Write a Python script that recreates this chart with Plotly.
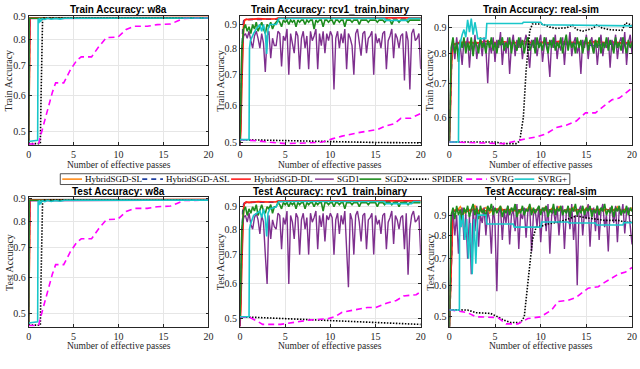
import numpy as np
import plotly.graph_objects as go
from plotly.subplots import make_subplots

METHODS = ["HybridSGD-SL", "HybridSGD-ASL", "HybridSGD-DL", "SGD1", "SGD2", "SPIDER", "SVRG", "SVRG+"]
COLORS = ["#FF8C1A", "#1F3FA0", "#FF1F1F", "#7E2F8E", "#1E8C1E", "#000000", "#FF00FF", "#19C6C9"]
DASHES = ["solid", "5px,4px", "solid", "solid", "solid", "1.5px,1.5px", "6px,4px", "solid"]
WIDTHS = [1.6, 1.6, 1.6, 1.4, 1.6, 1.6, 1.6, 1.6]

# sample positions (effective passes) for the noisy curves
PASSES_02 = np.round(np.arange(0, 20.0001, 0.2), 1)
PASSES_04 = np.round(np.arange(0, 20.0001, 0.4), 1)

# ---------------- w8a (train and test curves coincide) ----------------
W8A_SL_X = [0, 0.05, 0.15, 20]
W8A_SL = [0.47, 0.60, 0.893, 0.895]
W8A_ASL_X = [0, 0.05, 0.12, 20]
W8A_ASL = [0.47, 0.65, 0.893, 0.894]
W8A_DL_X = [0, 0.05, 0.15, 20]
W8A_DL = [0.47, 0.70, 0.894, 0.895]
W8A_SGD1_X = [0, 0.04, 0.1, 20]
W8A_SGD1 = [0.47, 0.75, 0.890, 0.893]
W8A_SGD2_X = [0, 0.02, 0.05, 20]
W8A_SGD2 = [0.47, 0.80, 0.892, 0.893]
W8A_SPIDER_X = [0, 1.0, 1.3, 1.38, 1.45, 1.55, 20]
W8A_SPIDER = [0.47, 0.47, 0.47, 0.60, 0.80, 0.893, 0.894]
W8A_SVRG_X = [0, 1.1, 1.24, 1.54, 2.08, 2.63, 3.0, 3.9, 4.64, 5.37, 5.85, 7.0, 7.75, 8.66,
              9.94, 10.85, 11.77, 13.2, 14.3, 15.8, 16.5, 17.26, 20]
W8A_SVRG = [0.469, 0.469, 0.482, 0.508, 0.552, 0.610, 0.641, 0.641, 0.685, 0.720, 0.732, 0.732,
            0.769, 0.808, 0.810, 0.842, 0.856, 0.856, 0.863, 0.866, 0.878, 0.891, 0.893]
W8A_SVRGP_X = [0, 1.0, 1.05, 1.15, 1.2, 1.3, 1.5, 1.8, 2.1, 2.5, 3.0, 3.5, 4.0, 20]
W8A_SVRGP = [0.475, 0.478, 0.890, 0.870, 0.893, 0.875, 0.890, 0.886, 0.892, 0.887, 0.891, 0.888,
             0.892, 0.893]

# ---------------- rcv1_train.binary ----------------
RCV1_HYB_X = [0, 0.1, 0.2, 0.3, 0.4, 0.5, 0.7, 1.0, 2.0, 3.0, 4.0, 4.3, 8.0, 12.0, 16.0, 16.5, 20.0]
TR_RCV1_SL = [0.50, 0.56, 0.70, 0.84, 0.90, 0.918, 0.922, 0.924, 0.925, 0.924, 0.925, 0.929, 0.930,
              0.930, 0.930, 0.932, 0.931]
TR_RCV1_ASL = [0.50, 0.60, 0.76, 0.88, 0.915, 0.920, 0.923, 0.923, 0.924, 0.925, 0.924, 0.928, 0.929,
               0.930, 0.929, 0.931, 0.930]
TR_RCV1_DL = [0.49, 0.53, 0.66, 0.80, 0.89, 0.920, 0.925, 0.922, 0.927, 0.925, 0.926, 0.931, 0.931,
              0.932, 0.930, 0.933, 0.931]
TR_RCV1_SGD1 = [0.49, 0.80, 0.85, 0.86, 0.84, 0.87, 0.83, 0.80, 0.85, 0.87,
                0.84, 0.80, 0.86, 0.82, 0.71, 0.85, 0.87, 0.76, 0.84, 0.81,
                0.81, 0.87, 0.86, 0.73, 0.85, 0.83, 0.88, 0.70, 0.86, 0.82,
                0.78, 0.87, 0.85, 0.72, 0.84, 0.87, 0.80, 0.85, 0.72, 0.87,
                0.83, 0.85, 0.88, 0.72, 0.86, 0.81, 0.87, 0.78, 0.86, 0.83,
                0.87, 0.85, 0.65, 0.84, 0.87, 0.80, 0.86, 0.82, 0.88, 0.72,
                0.86, 0.84, 0.81, 0.70, 0.86, 0.88, 0.83, 0.77, 0.86, 0.87,
                0.78, 0.84, 0.85, 0.87, 0.70, 0.86, 0.82, 0.84, 0.80, 0.86,
                0.87, 0.72, 0.83, 0.85, 0.88, 0.76, 0.86, 0.84, 0.80, 0.85,
                0.86, 0.68, 0.87, 0.83, 0.65, 0.86, 0.88, 0.83, 0.84, 0.86,
                0.72]
TR_RCV1_SGD2 = [0.50, 0.80, 0.88, 0.90, 0.87, 0.89, 0.86, 0.90, 0.88, 0.91,
                0.87, 0.89, 0.91, 0.88, 0.86, 0.90, 0.89, 0.91, 0.88, 0.90,
                0.91, 0.92, 0.91, 0.89, 0.92, 0.91, 0.92, 0.90, 0.92, 0.91,
                0.92, 0.89, 0.92, 0.91, 0.92, 0.92, 0.90, 0.92, 0.91, 0.92,
                0.92, 0.88, 0.92, 0.91, 0.92, 0.92, 0.89, 0.92, 0.92, 0.91,
                0.92, 0.92, 0.90, 0.92, 0.92, 0.91, 0.92, 0.92, 0.89, 0.92,
                0.92, 0.92, 0.91, 0.92, 0.92, 0.92, 0.90, 0.92, 0.92, 0.92,
                0.92, 0.91, 0.92, 0.92, 0.92, 0.92, 0.91, 0.92, 0.92, 0.92,
                0.91, 0.92, 0.92, 0.92, 0.90, 0.92, 0.92, 0.92, 0.91, 0.92,
                0.92, 0.92, 0.92, 0.91, 0.92, 0.92, 0.92, 0.92, 0.92, 0.92,
                0.92]
TR_RCV1_SPIDER_X = [0, 2, 5, 10, 15, 20]
TR_RCV1_SPIDER = [0.506, 0.505, 0.503, 0.501, 0.499, 0.498]
TR_RCV1_SVRG_X = [0, 1.5, 2.0, 3.1, 5.1, 7.6, 9.1, 10.2, 11.3, 13.1, 14.5, 15.3, 16.0, 17.1, 17.8, 18.9, 20]
TR_RCV1_SVRG = [0.506, 0.505, 0.503, 0.500, 0.496, 0.498, 0.500, 0.508, 0.515, 0.524, 0.529, 0.533,
                0.541, 0.548, 0.563, 0.563, 0.577]
TR_RCV1_SVRGP_X = [0, 1.0, 1.05, 1.15, 1.5, 1.8, 2.2, 2.4, 2.6, 2.8, 2.95, 3.1, 3.3, 4.0, 4.15, 4.3,
                   16.0, 16.1, 18.5, 18.7, 20]
TR_RCV1_SVRGP = [0.506, 0.506, 0.80, 0.83, 0.86, 0.88, 0.90, 0.87, 0.90, 0.86, 0.777, 0.88, 0.90,
                 0.90, 0.91, 0.928, 0.928, 0.918, 0.918, 0.928, 0.928]

TE_RCV1_SL = [0.49, 0.55, 0.70, 0.84, 0.90, 0.915, 0.920, 0.922, 0.923, 0.922, 0.924, 0.927, 0.928,
              0.928, 0.928, 0.930, 0.929]
TE_RCV1_ASL = [0.49, 0.60, 0.76, 0.88, 0.912, 0.918, 0.921, 0.921, 0.922, 0.923, 0.922, 0.926, 0.927,
               0.928, 0.927, 0.929, 0.928]
TE_RCV1_DL = [0.48, 0.53, 0.66, 0.80, 0.89, 0.918, 0.923, 0.920, 0.925, 0.923, 0.924, 0.929, 0.929,
              0.930, 0.928, 0.931, 0.929]
TE_RCV1_SGD1 = [0.48, 0.80, 0.85, 0.86, 0.83, 0.87, 0.82, 0.80, 0.85, 0.87,
                0.84, 0.78, 0.86, 0.83, 0.70, 0.60, 0.86, 0.76, 0.84, 0.81,
                0.80, 0.87, 0.86, 0.72, 0.85, 0.82, 0.88, 0.60, 0.86, 0.83,
                0.76, 0.87, 0.85, 0.70, 0.84, 0.87, 0.80, 0.85, 0.70, 0.87,
                0.83, 0.85, 0.88, 0.72, 0.86, 0.81, 0.87, 0.75, 0.86, 0.84,
                0.87, 0.85, 0.70, 0.84, 0.87, 0.78, 0.86, 0.82, 0.88, 0.72,
                0.59, 0.87, 0.84, 0.70, 0.86, 0.88, 0.83, 0.75, 0.86, 0.87,
                0.72, 0.84, 0.85, 0.87, 0.70, 0.86, 0.82, 0.84, 0.78, 0.86,
                0.87, 0.72, 0.83, 0.85, 0.88, 0.74, 0.86, 0.84, 0.80, 0.85,
                0.86, 0.72, 0.87, 0.63, 0.80, 0.86, 0.88, 0.83, 0.84, 0.86,
                0.70]
TE_RCV1_SGD2 = [0.50, 0.80, 0.88, 0.90, 0.86, 0.89, 0.87, 0.90, 0.88, 0.91,
                0.86, 0.89, 0.91, 0.88, 0.87, 0.90, 0.89, 0.91, 0.87, 0.90,
                0.90, 0.92, 0.91, 0.89, 0.92, 0.91, 0.92, 0.90, 0.92, 0.91,
                0.92, 0.89, 0.92, 0.91, 0.92, 0.92, 0.89, 0.92, 0.91, 0.92,
                0.92, 0.90, 0.92, 0.91, 0.92, 0.92, 0.88, 0.92, 0.92, 0.91,
                0.92, 0.92, 0.90, 0.92, 0.92, 0.91, 0.92, 0.92, 0.89, 0.92,
                0.92, 0.92, 0.91, 0.92, 0.92, 0.92, 0.90, 0.92, 0.92, 0.92,
                0.92, 0.91, 0.92, 0.92, 0.92, 0.92, 0.90, 0.92, 0.92, 0.92,
                0.91, 0.92, 0.92, 0.92, 0.91, 0.92, 0.92, 0.92, 0.90, 0.92,
                0.92, 0.92, 0.92, 0.91, 0.92, 0.92, 0.92, 0.92, 0.92, 0.92,
                0.92]
TE_RCV1_SPIDER_X = [0, 5.1, 9.8, 12, 14.9, 17.8, 20]
TE_RCV1_SPIDER = [0.505, 0.500, 0.496, 0.492, 0.490, 0.488, 0.485]
TE_RCV1_SVRG_X = [0, 1.1, 2.0, 2.5, 4.5, 5.8, 7.6, 9.8, 10.5, 11.3, 13.1, 14.1, 15.0, 16.3, 17.3,
                  18.1, 19.5, 20]
TE_RCV1_SVRG = [0.505, 0.503, 0.492, 0.485, 0.485, 0.490, 0.496, 0.500, 0.505, 0.517, 0.526, 0.530,
                0.530, 0.543, 0.550, 0.563, 0.567, 0.576]
TE_RCV1_SVRGP_X = [0, 1.0, 1.05, 1.15, 1.5, 1.8, 2.2, 2.4, 2.6, 2.8, 2.95, 3.1, 3.3, 4.0, 4.15, 4.3,
                   16.0, 16.1, 19.0, 19.2, 20]
TE_RCV1_SVRGP = [0.505, 0.505, 0.80, 0.82, 0.86, 0.87, 0.88, 0.85, 0.89, 0.85, 0.77, 0.87, 0.89,
                 0.90, 0.91, 0.925, 0.925, 0.915, 0.915, 0.925, 0.925]

# ---------------- real-sim ----------------
RS_HYB_X = [0, 0.1, 0.2, 0.3, 0.5, 1, 2, 3, 4, 5, 6, 7, 8, 9, 10, 11, 12, 13, 14, 15, 16, 17, 18, 19, 20]
TR_RS_SL = [0.54, 0.62, 0.76, 0.82, 0.835, 0.838, 0.836, 0.840, 0.835, 0.838, 0.836, 0.840, 0.837,
            0.835, 0.839, 0.836, 0.840, 0.835, 0.838, 0.836, 0.840, 0.837, 0.835, 0.838, 0.836]
TR_RS_ASL = [0.54, 0.64, 0.78, 0.83, 0.834, 0.836, 0.833, 0.838, 0.834, 0.837, 0.833, 0.838, 0.835,
             0.832, 0.837, 0.834, 0.838, 0.833, 0.836, 0.834, 0.826, 0.835, 0.833, 0.836, 0.834]
TR_RS_DL = [0.54, 0.60, 0.74, 0.81, 0.832, 0.840, 0.842, 0.838, 0.845, 0.840, 0.843, 0.838, 0.845,
            0.840, 0.842, 0.838, 0.845, 0.840, 0.842, 0.838, 0.845, 0.840, 0.842, 0.838, 0.842]
TR_RS_SGD1 = [0.54, 0.80, 0.84, 0.78, 0.86, 0.80, 0.83, 0.76, 0.85, 0.82,
              0.86, 0.75, 0.84, 0.80, 0.87, 0.78, 0.83, 0.85, 0.79, 0.86,
              0.82, 0.70, 0.84, 0.80, 0.86, 0.77, 0.85, 0.82, 0.88, 0.76,
              0.84, 0.80, 0.86, 0.73, 0.83, 0.87, 0.79, 0.85, 0.82, 0.86,
              0.78, 0.84, 0.87, 0.80, 0.75, 0.85, 0.82, 0.86, 0.79, 0.84,
              0.87, 0.77, 0.83, 0.86, 0.80, 0.72, 0.85, 0.82, 0.87, 0.78,
              0.84, 0.81, 0.86, 0.76, 0.85, 0.82, 0.88, 0.79, 0.84, 0.86,
              0.80, 0.83, 0.73, 0.85, 0.82, 0.87, 0.78, 0.84, 0.86, 0.80,
              0.85, 0.76, 0.83, 0.87, 0.79, 0.84, 0.82, 0.86, 0.75, 0.85,
              0.82, 0.87, 0.78, 0.84, 0.86, 0.80, 0.88, 0.76, 0.84, 0.87,
              0.80]
TR_RS_SGD2 = [0.54, 0.82, 0.86, 0.80, 0.84, 0.77, 0.85, 0.82, 0.86, 0.80,
              0.84, 0.81, 0.86, 0.79, 0.85, 0.83, 0.80, 0.86, 0.82, 0.84,
              0.80, 0.85, 0.82, 0.86, 0.81, 0.84, 0.80, 0.85, 0.83, 0.86,
              0.81, 0.84, 0.82, 0.86, 0.80, 0.85, 0.83, 0.81, 0.86, 0.82,
              0.85, 0.80, 0.84, 0.86, 0.81, 0.83, 0.85, 0.80, 0.86, 0.82,
              0.84, 0.81, 0.86, 0.83, 0.80, 0.85, 0.82, 0.86, 0.81, 0.84,
              0.82, 0.86, 0.80, 0.84, 0.87, 0.81, 0.85, 0.82, 0.84, 0.80,
              0.86, 0.82, 0.85, 0.80, 0.84, 0.86, 0.81, 0.85, 0.83, 0.80,
              0.85, 0.82, 0.86, 0.80, 0.84, 0.82, 0.86, 0.81, 0.85, 0.83,
              0.80, 0.86, 0.82, 0.84, 0.81, 0.86, 0.83, 0.80, 0.85, 0.82,
              0.84]
TR_RS_SPIDER_X = [0, 5.0, 5.9, 7.3, 7.7, 8.1, 8.4, 8.8, 9.1, 10.2, 11.0, 11.7, 12.8, 13.5, 13.9, 14.6,
                  15.7, 16.2, 16.7, 17.5, 18.9, 19.3, 20]
TR_RS_SPIDER = [0.538, 0.538, 0.534, 0.534, 0.540, 0.600, 0.740, 0.885, 0.913, 0.913, 0.900, 0.895,
                0.897, 0.908, 0.891, 0.884, 0.895, 0.910, 0.897, 0.890, 0.887, 0.917, 0.908]
TR_RS_SVRG_X = [0, 3.7, 5.9, 7.3, 8.4, 9.5, 10.6, 11.7, 12.8, 13.9, 14.9, 16.0, 16.7, 17.8, 18.6, 19.6, 20]
TR_RS_SVRG = [0.538, 0.536, 0.534, 0.540, 0.546, 0.550, 0.558, 0.574, 0.580, 0.591, 0.613, 0.613,
              0.627, 0.650, 0.655, 0.675, 0.685]
TR_RS_SVRGP_X = [0, 1.0, 1.05, 1.2, 1.4, 1.6, 1.8, 2.0, 2.2, 2.4, 2.6, 2.8, 3.0, 3.1, 4.0, 4.1, 8.0,
                 8.1, 10.0, 10.2, 20]
TR_RS_SVRGP = [0.538, 0.538, 0.80, 0.84, 0.87, 0.89, 0.86, 0.93, 0.88, 0.935, 0.87, 0.92, 0.88, 0.855,
               0.855, 0.915, 0.915, 0.920, 0.920, 0.910, 0.905]

TE_RS_SL = [0.47, 0.93, 0.92, 0.945, 0.91, 0.935, 0.92, 0.95, 0.915, 0.93,
            0.94, 0.91, 0.935, 0.925, 0.945, 0.915, 0.93, 0.92, 0.94, 0.91,
            0.935, 0.925, 0.95, 0.915, 0.93, 0.92, 0.94, 0.912, 0.935, 0.925,
            0.945, 0.915, 0.93, 0.92, 0.94, 0.91, 0.935, 0.925, 0.95, 0.915,
            0.93, 0.92, 0.94, 0.91, 0.935, 0.925, 0.945, 0.915, 0.93, 0.92,
            0.94]
TE_RS_ASL = [0.47, 0.92, 0.925, 0.93, 0.92, 0.927, 0.931, 0.924, 0.93, 0.921,
             0.928, 0.93, 0.925, 0.931, 0.922, 0.929, 0.93, 0.924, 0.93, 0.921,
             0.928, 0.931, 0.924, 0.93, 0.922, 0.929, 0.931, 0.925, 0.93, 0.921,
             0.928, 0.93, 0.924, 0.931, 0.922, 0.929, 0.93, 0.924, 0.93, 0.921,
             0.928, 0.931, 0.925, 0.93, 0.922, 0.929, 0.93, 0.924, 0.931, 0.921,
             0.928]
TE_RS_DL = [0.47, 0.92, 0.93, 0.925, 0.93, 0.92, 0.928, 0.932, 0.925, 0.93,
            0.922, 0.93, 0.927, 0.932, 0.924, 0.93, 0.926, 0.931, 0.922, 0.928,
            0.932, 0.925, 0.93, 0.923, 0.93, 0.927, 0.932, 0.924, 0.93, 0.926,
            0.931, 0.922, 0.928, 0.932, 0.925, 0.93, 0.923, 0.93, 0.927, 0.932,
            0.924, 0.93, 0.926, 0.931, 0.922, 0.928, 0.932, 0.925, 0.93, 0.923,
            0.93]
TE_RS_SGD1 = [0.47, 0.85, 0.93, 0.80, 0.90, 0.72, 0.88, 0.94, 0.78, 0.91,
              0.70, 0.90, 0.64, 0.93, 0.82, 0.95, 0.75, 0.90, 0.86, 0.94,
              0.80, 0.92, 0.88, 0.72, 0.95, 0.85, 0.58, 0.91, 0.94, 0.78,
              0.92, 0.86, 0.95, 0.76, 0.90, 0.93, 0.82, 0.96, 0.74, 0.91,
              0.88, 0.94, 0.79, 0.92, 0.95, 0.73, 0.90, 0.93, 0.84, 0.95,
              0.77, 0.91, 0.94, 0.82, 0.96, 0.72, 0.90, 0.93, 0.86, 0.95,
              0.80, 0.92, 0.95, 0.74, 0.91, 0.94, 0.83, 0.96, 0.78, 0.90,
              0.60, 0.93, 0.95, 0.80, 0.92, 0.88, 0.96, 0.75, 0.91, 0.94,
              0.82, 0.95, 0.78, 0.92, 0.96, 0.84, 0.90, 0.73, 0.94, 0.92,
              0.86, 0.95, 0.77, 0.93, 0.90, 0.96, 0.81, 0.92, 0.94, 0.85,
              0.76]
TE_RS_SGD2 = [0.47, 0.90, 0.94, 0.88, 0.95, 0.90, 0.93, 0.87, 0.94, 0.91,
              0.95, 0.89, 0.93, 0.96, 0.90, 0.94, 0.88, 0.95, 0.91, 0.93,
              0.89, 0.95, 0.92, 0.96, 0.90, 0.94, 0.91, 0.93, 0.95, 0.89,
              0.93, 0.91, 0.95, 0.90, 0.94, 0.92, 0.96, 0.89, 0.93, 0.91,
              0.95, 0.90, 0.93, 0.92, 0.96, 0.90, 0.94, 0.91, 0.93, 0.95,
              0.90, 0.94, 0.92, 0.95, 0.89, 0.93, 0.91, 0.96, 0.90, 0.94,
              0.92, 0.95, 0.90, 0.93, 0.91, 0.95, 0.89, 0.94, 0.92, 0.96,
              0.90, 0.93, 0.91, 0.95, 0.90, 0.94, 0.92, 0.95, 0.89, 0.93,
              0.91, 0.95, 0.90, 0.94, 0.92, 0.96, 0.90, 0.93, 0.91, 0.95,
              0.89, 0.94, 0.92, 0.95, 0.90, 0.93, 0.91, 0.95, 0.90, 0.94,
              0.92]
TE_RS_SPIDER_X = [0, 2.0, 2.9, 4.5, 5.3, 6.0, 6.7, 7.8, 8.2, 8.6, 9.1, 9.5, 10.1, 10.8, 11.9, 13.0,
                  13.9, 14.8, 15.9, 17.0, 18.5, 19.3, 20]
TE_RS_SPIDER = [0.521, 0.520, 0.512, 0.510, 0.500, 0.490, 0.484, 0.484, 0.500, 0.600, 0.780, 0.840,
                0.845, 0.855, 0.864, 0.880, 0.896, 0.888, 0.880, 0.873, 0.873, 0.864, 0.864]
TE_RS_SVRG_X = [0, 2.0, 2.9, 3.8, 5.3, 6.2, 7.5, 8.6, 10.0, 11.2, 11.9, 13.0, 13.9, 15.2, 16.3, 17.0,
                18.5, 19.3, 20]
TE_RS_SVRG = [0.521, 0.512, 0.500, 0.500, 0.498, 0.480, 0.480, 0.495, 0.500, 0.520, 0.546, 0.550,
              0.560, 0.590, 0.595, 0.610, 0.640, 0.648, 0.665]
TE_RS_SVRGP_X = [0, 1.1, 1.12, 1.3, 1.5, 1.7, 1.9, 2.1, 2.3, 2.5, 2.7, 2.9, 3.1, 4.0, 4.1, 7.0, 7.1,
                 10.0, 10.1, 13.0, 13.1, 16.0, 16.1, 19.0, 19.1, 20]
TE_RS_SVRGP = [0.52, 0.52, 0.90, 0.84, 0.90, 0.78, 0.88, 0.70, 0.86, 0.64, 0.88, 0.68, 0.90, 0.90,
               0.855, 0.855, 0.84, 0.84, 0.865, 0.865, 0.86, 0.86, 0.85, 0.85, 0.862, 0.862]

W8A_CURVES = [(W8A_SL_X, W8A_SL), (W8A_ASL_X, W8A_ASL), (W8A_DL_X, W8A_DL), (W8A_SGD1_X, W8A_SGD1),
              (W8A_SGD2_X, W8A_SGD2), (W8A_SPIDER_X, W8A_SPIDER), (W8A_SVRG_X, W8A_SVRG),
              (W8A_SVRGP_X, W8A_SVRGP)]

PANELS = [
    # row, col, title, y label, y range (data units), curves
    (1, 1, "Train Accuracy: w8a", "Train Accuracy", (0.466, 0.903), W8A_CURVES),
    (1, 2, "Train Accuracy: rcv1_train.binary", "Train Accuracy", (0.492, 0.940), [
        (RCV1_HYB_X, TR_RCV1_SL), (RCV1_HYB_X, TR_RCV1_ASL), (RCV1_HYB_X, TR_RCV1_DL),
        (PASSES_02, TR_RCV1_SGD1), (PASSES_02, TR_RCV1_SGD2), (TR_RCV1_SPIDER_X, TR_RCV1_SPIDER),
        (TR_RCV1_SVRG_X, TR_RCV1_SVRG), (TR_RCV1_SVRGP_X, TR_RCV1_SVRGP)]),
    (1, 3, "Train Accuracy: real-sim", "Train Accuracy", (0.530, 0.947), [
        (RS_HYB_X, TR_RS_SL), (RS_HYB_X, TR_RS_ASL), (RS_HYB_X, TR_RS_DL),
        (PASSES_02, TR_RS_SGD1), (PASSES_02, TR_RS_SGD2), (TR_RS_SPIDER_X, TR_RS_SPIDER),
        (TR_RS_SVRG_X, TR_RS_SVRG), (TR_RS_SVRGP_X, TR_RS_SVRGP)]),
    (2, 1, "Test Accuracy: w8a", "Test Accuracy", (0.466, 0.906), W8A_CURVES),
    (2, 2, "Test Accuracy: rcv1_train.binary", "Test Accuracy", (0.479, 0.946), [
        (RCV1_HYB_X, TE_RCV1_SL), (RCV1_HYB_X, TE_RCV1_ASL), (RCV1_HYB_X, TE_RCV1_DL),
        (PASSES_02, TE_RCV1_SGD1), (PASSES_02, TE_RCV1_SGD2), (TE_RCV1_SPIDER_X, TE_RCV1_SPIDER),
        (TE_RCV1_SVRG_X, TE_RCV1_SVRG), (TE_RCV1_SVRGP_X, TE_RCV1_SVRGP)]),
    (2, 3, "Test Accuracy: real-sim", "Test Accuracy", (0.472, 0.998), [
        (PASSES_04, TE_RS_SL), (PASSES_04, TE_RS_ASL), (PASSES_04, TE_RS_DL),
        (PASSES_02, TE_RS_SGD1), (PASSES_02, TE_RS_SGD2), (TE_RS_SPIDER_X, TE_RS_SPIDER),
        (TE_RS_SVRG_X, TE_RS_SVRG), (TE_RS_SVRGP_X, TE_RS_SVRGP)]),
]

W, H = 640, 369
# axes boxes in pixels: columns (left, right), rows (top, bottom)
COL_PX = [(26, 208), (240, 423), (452, 637)]
ROW_PX = [(11, 143), (196, 328)]
YTITLE_PX = [6, 220, 432]

SERIF = "Liberation Serif, Times New Roman, serif"
SANS_NARROW = "Liberation Sans Narrow, Arial Narrow, Liberation Sans, Arial, sans-serif"

fig = make_subplots(rows=2, cols=3)
annotations = []

for row, col, title, ylabel, yr, curves in PANELS:
    for k, (xs, ys) in enumerate(curves):
        fig.add_trace(
            go.Scatter(x=xs, y=ys, mode="lines", name=METHODS[k], showlegend=False,
                       line=dict(color=COLORS[k], width=WIDTHS[k], dash=DASHES[k])),
            row=row, col=col,
        )
    l, r = COL_PX[col - 1]
    t, b = ROW_PX[row - 1]
    fig.update_xaxes(domain=[l / W, r / W], range=[0, 20], tickvals=[0, 5, 10, 15, 20],
                     row=row, col=col)
    ticks = [v for v in [0.5, 0.6, 0.7, 0.8, 0.9] if yr[0] <= v <= yr[1]]
    fig.update_yaxes(domain=[1 - b / H, 1 - t / H], type="log",
                     range=[np.log10(yr[0]), np.log10(yr[1])],
                     tickvals=ticks, ticktext=[f"{v:.1f}" for v in ticks],
                     row=row, col=col)
    cx = (l + r) / 2 / W
    annotations.append(dict(text=f"<b>{title}</b>", x=cx, y=1 - (t - 6) / H, xref="paper", yref="paper",
                            showarrow=False, font=dict(family=SANS_NARROW, size=10, color="#000"),
                            xanchor="center", yanchor="middle"))
    annotations.append(dict(text="Number of effective passes", x=cx, y=1 - (b + 20) / H,
                            xref="paper", yref="paper", showarrow=False,
                            font=dict(family=SERIF, size=9.5, color="#262626"),
                            xanchor="center", yanchor="middle"))
    annotations.append(dict(text=ylabel, x=YTITLE_PX[col - 1] / W, y=1 - (t + b) / 2 / H,
                            xref="paper", yref="paper", showarrow=False, textangle=-90,
                            font=dict(family=SERIF, size=10, color="#262626"),
                            xanchor="center", yanchor="middle"))

fig.update_xaxes(showline=True, mirror="ticks", linecolor="#262626", linewidth=0.8,
                 ticks="inside", ticklen=3, tickcolor="#262626", showgrid=True, gridcolor="#e6e6e6",
                 zeroline=False, tickfont=dict(family=SERIF, size=10, color="#262626"))
fig.update_yaxes(showline=True, mirror="ticks", linecolor="#262626", linewidth=0.8,
                 ticks="inside", ticklen=3, tickcolor="#262626", showgrid=True, gridcolor="#e6e6e6",
                 zeroline=False, tickfont=dict(family=SERIF, size=10, color="#262626"))

# legend drawn by hand so that it fits on one row like the original
LEG_LINE_PX = [(60, 80), (141, 162), (231, 251), (316, 335), (361, 383), (409, 431), (469, 490), (518, 538)]
LEG_BOX_PX = (58, 574, 172, 183)
leg_y = 1 - 177.5 / H
shapes = [dict(type="rect", xref="paper", yref="paper", x0=LEG_BOX_PX[0] / W, x1=LEG_BOX_PX[1] / W,
               y0=1 - LEG_BOX_PX[3] / H, y1=1 - LEG_BOX_PX[2] / H,
               line=dict(color="#262626", width=0.8), fillcolor="white", layer="above")]
for k, (x0, x1) in enumerate(LEG_LINE_PX):
    shapes.append(dict(type="line", xref="paper", yref="paper", x0=x0 / W, x1=x1 / W, y0=leg_y, y1=leg_y,
                       line=dict(color=COLORS[k], width=WIDTHS[k], dash=DASHES[k]), layer="above"))
    annotations.append(dict(text=METHODS[k], x=(x1 + 1.5) / W, y=leg_y, xref="paper", yref="paper",
                            showarrow=False, xanchor="left", yanchor="middle",
                            font=dict(family=SERIF, size=9, color="#000")))

fig.update_layout(
    width=W, height=H, margin=dict(l=0, r=0, t=0, b=0),
    paper_bgcolor="white", plot_bgcolor="white",
    showlegend=False, annotations=annotations, shapes=shapes,
)

# the page body has a default margin; drop it so the 640x369 figure sits at the window origin
fig.write_html("out.html", config={"displayModeBar": False},
               post_script="document.body.style.margin='0';")
